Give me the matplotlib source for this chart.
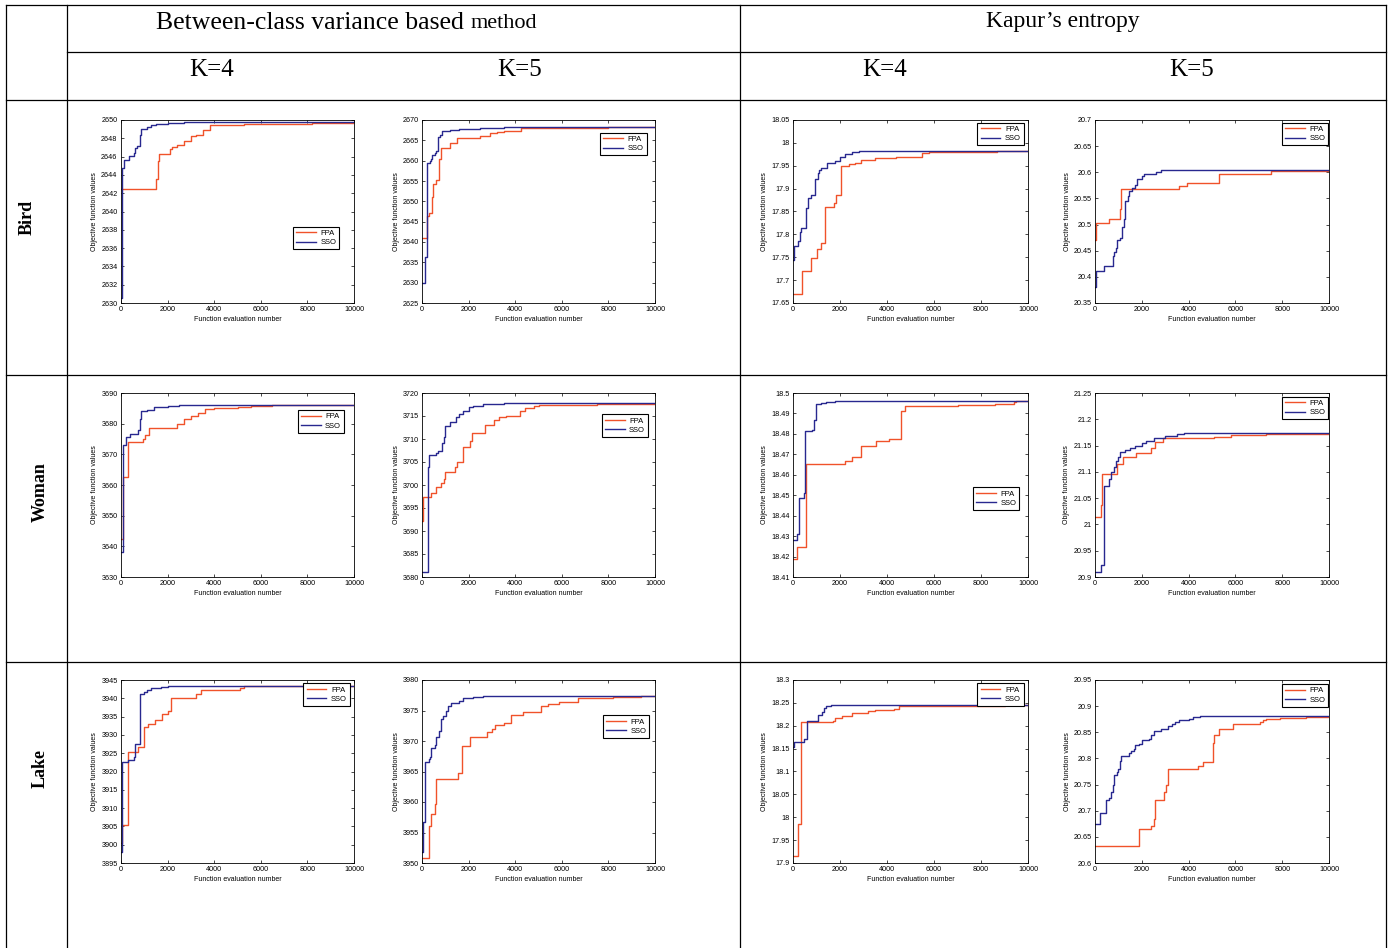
"""Convergence curves of FPA vs SSO for multilevel thresholding, laid out as a table."""
import numpy as np
import matplotlib
matplotlib.use("Agg")
import matplotlib.pyplot as plt
from matplotlib.lines import Line2D
from matplotlib.ticker import FuncFormatter

W, H = 1390, 948

COL_TITLES = ["Between-class variance based ", "method", "Kapur\u2019s entropy"]
K_LABELS = ["K=4", "K=5", "K=4", "K=5"]
ROW_LABELS = ["Bird", "Woman", "Lake"]
METHODS = ["FPA", "SSO"]
X_MAX = 10000
X_TICKS = [0, 2000, 4000, 6000, 8000, 10000]

# (ymin, ymax, tick step) per panel, rows Bird/Woman/Lake, cols BCV K4, BCV K5, Kapur K4, Kapur K5
Y_LIMITS = [
    [(2630, 2650, 2), (2625, 2670, 5), (17.65, 18.05, 0.05), (20.35, 20.7, 0.05)],
    [(3630, 3690, 10), (3680, 3720, 5), (18.41, 18.5, 0.01), (20.9, 21.25, 0.05)],
    [(3895, 3945, 5), (3950, 3980, 5), (17.9, 18.3, 0.05), (20.6, 20.95, 0.05)],
]

# best-so-far values: (evaluation number where the value starts, value)
bird_bcv4_fpa = [(0, 2642.5), (1500, 2643.6), (1600, 2645.5), (1650, 2646.3), (2100, 2646.8),
                 (2200, 2647.1), (2400, 2647.3), (2700, 2647.7), (3000, 2648.2), (3200, 2648.4),
                 (3500, 2648.9), (3800, 2649.5), (5300, 2649.55), (7600, 2649.6), (8200, 2649.7)]
bird_bcv4_sso = [(0, 2630.5), (50, 2644.8), (110, 2645.6), (330, 2646.1), (550, 2646.4),
                 (620, 2646.9), (700, 2647.2), (830, 2648.4), (870, 2649.0), (1100, 2649.2),
                 (1300, 2649.5), (1500, 2649.6), (2000, 2649.7), (2700, 2649.75)]

bird_bcv5_fpa = [(0, 2641.0), (200, 2646.3), (320, 2647.2), (420, 2651.0), (480, 2654.2),
                 (600, 2655.3), (720, 2660.5), (800, 2663.2), (1200, 2664.3), (1500, 2665.5),
                 (2500, 2666.1), (2900, 2666.7), (3200, 2667.0), (3500, 2667.3), (4250, 2668.1),
                 (8000, 2668.3)]
bird_bcv5_sso = [(0, 2630.0), (120, 2636.3), (200, 2659.5), (350, 2659.8), (400, 2660.3),
                 (450, 2661.5), (550, 2661.8), (600, 2662.5), (700, 2665.9), (780, 2666.3),
                 (850, 2667.3), (1200, 2667.6), (1600, 2667.9), (2500, 2668.1), (3500, 2668.3)]

bird_kap4_fpa = [(0, 17.67), (400, 17.72), (750, 17.748), (1000, 17.767), (1200, 17.782),
                 (1380, 17.86), (1750, 17.868), (1850, 17.885), (2050, 17.95), (2400, 17.953),
                 (2650, 17.956), (2900, 17.962), (3500, 17.966), (4400, 17.97), (5500, 17.978),
                 (5800, 17.98), (8700, 17.982)]
bird_kap4_sso = [(0, 17.745), (30, 17.775), (200, 17.785), (300, 17.805), (350, 17.815),
                 (570, 17.858), (630, 17.88), (750, 17.885), (950, 17.92), (1050, 17.935),
                 (1100, 17.94), (1200, 17.945), (1450, 17.955), (1800, 17.96), (2000, 17.97),
                 (2200, 17.975), (2500, 17.98), (2800, 17.982)]

bird_kap5_fpa = [(0, 20.47), (50, 20.503), (600, 20.51), (1050, 20.53), (1100, 20.568),
                 (3600, 20.573), (3950, 20.58), (5300, 20.596), (7500, 20.602)]
bird_kap5_sso = [(0, 20.38), (40, 20.412), (400, 20.42), (750, 20.44), (800, 20.448),
                 (900, 20.455), (950, 20.47), (1050, 20.475), (1150, 20.495), (1250, 20.51),
                 (1300, 20.545), (1400, 20.555), (1450, 20.565), (1600, 20.57), (1700, 20.575),
                 (1800, 20.588), (2000, 20.592), (2100, 20.596), (2600, 20.6), (2800, 20.604)]

woman_bcv4_fpa = [(0, 3642.5), (70, 3662.5), (300, 3674.0), (950, 3675.0), (1050, 3676.3),
                  (1200, 3678.6), (2400, 3680.0), (2700, 3681.5), (3000, 3682.5), (3300, 3683.5),
                  (3600, 3684.7), (4000, 3685.0), (5000, 3685.3), (5600, 3685.7), (6500, 3686.0)]
woman_bcv4_sso = [(0, 3638.0), (70, 3673.2), (200, 3675.5), (400, 3676.5), (720, 3678.0),
                  (800, 3681.5), (850, 3684.0), (1100, 3684.6), (1400, 3685.3), (2000, 3685.7),
                  (2500, 3686.0)]

woman_bcv5_fpa = [(0, 3692.2), (40, 3697.5), (400, 3698.2), (600, 3699.5), (800, 3700.4),
                  (950, 3701.3), (1000, 3702.8), (1400, 3704.0), (1500, 3705.1), (1750, 3708.3),
                  (2050, 3709.5), (2150, 3711.2), (2700, 3713.0), (3100, 3714.1), (3300, 3714.7),
                  (3600, 3715.1), (4200, 3716.1), (4400, 3716.8), (4800, 3717.2), (5000, 3717.5),
                  (7500, 3717.7)]
woman_bcv5_sso = [(0, 3681.0), (250, 3704.0), (320, 3706.6), (600, 3707.0), (700, 3707.5),
                  (850, 3709.2), (930, 3710.5), (1000, 3712.8), (1200, 3713.8), (1450, 3714.8),
                  (1600, 3715.5), (1750, 3716.1), (2000, 3716.9), (2200, 3717.1), (2600, 3717.6),
                  (3500, 3717.8)]

woman_kap4_fpa = [(0, 18.419), (150, 18.4245), (540, 18.4655), (2200, 18.4668), (2500, 18.4685),
                  (2900, 18.474), (3550, 18.4765), (4100, 18.4775), (4600, 18.491), (4750, 18.4935),
                  (7000, 18.4943), (8600, 18.4948), (9400, 18.4955), (9500, 18.496)]
woman_kap4_sso = [(0, 18.428), (150, 18.431), (250, 18.4485), (450, 18.451), (500, 18.4815),
                  (800, 18.482), (880, 18.4835), (900, 18.487), (980, 18.4945), (1200, 18.495),
                  (1400, 18.4955), (1800, 18.496)]

woman_kap5_fpa = [(0, 21.015), (250, 21.037), (320, 21.095), (950, 21.115), (1200, 21.129),
                  (1750, 21.136), (2400, 21.146), (2550, 21.156), (2900, 21.164), (5100, 21.166),
                  (5800, 21.171), (7300, 21.172)]
woman_kap5_sso = [(0, 20.91), (250, 20.923), (400, 21.073), (600, 21.087), (700, 21.1),
                  (800, 21.11), (900, 21.12), (1000, 21.128), (1050, 21.138), (1300, 21.142),
                  (1500, 21.146), (1700, 21.15), (2000, 21.155), (2200, 21.159), (2500, 21.165),
                  (3000, 21.169), (3500, 21.172), (3800, 21.174)]

lake_bcv4_fpa = [(0, 3900.5), (50, 3905.3), (300, 3925.2), (750, 3926.8), (1000, 3932.2),
                 (1150, 3933.0), (1450, 3934.1), (1750, 3935.8), (2000, 3936.5), (2150, 3940.2),
                 (3200, 3941.2), (3450, 3942.3), (5100, 3942.8), (5300, 3943.3)]
lake_bcv4_sso = [(0, 3898.0), (30, 3922.7), (300, 3923.2), (550, 3924.0), (600, 3927.5),
                 (800, 3941.3), (1000, 3941.8), (1100, 3942.3), (1300, 3942.8), (1700, 3943.2),
                 (2000, 3943.4)]

lake_bcv5_fpa = [(0, 3950.8), (300, 3956.0), (400, 3958.0), (550, 3959.6), (600, 3963.8),
                 (1550, 3964.8), (1700, 3969.2), (2050, 3970.6), (2800, 3971.4), (3000, 3972.0),
                 (3150, 3972.6), (3500, 3972.9), (3800, 3974.2), (4350, 3974.7), (5100, 3975.7),
                 (5400, 3976.0), (5900, 3976.4), (6700, 3977.0), (8200, 3977.2), (9400, 3977.4)]
lake_bcv5_sso = [(0, 3951.8), (50, 3956.8), (150, 3966.6), (300, 3967.1), (350, 3967.4),
                 (400, 3968.9), (550, 3969.3), (600, 3970.7), (750, 3971.7), (800, 3973.6),
                 (900, 3974.1), (1050, 3974.9), (1100, 3975.7), (1250, 3976.3), (1600, 3976.6),
                 (1750, 3977.0), (2200, 3977.2), (2600, 3977.4)]

lake_kap4_fpa = [(0, 17.916), (200, 17.985), (320, 18.208), (1700, 18.21), (1800, 18.218),
                 (2100, 18.221), (2500, 18.228), (3200, 18.232), (3500, 18.235), (4300, 18.237),
                 (4500, 18.243), (6700, 18.244), (9000, 18.245)]
lake_kap4_sso = [(0, 18.153), (50, 18.164), (450, 18.17), (600, 18.21), (1050, 18.223),
                 (1250, 18.23), (1300, 18.238), (1400, 18.244), (1600, 18.245)]

lake_kap5_fpa = [(0, 20.632), (1900, 20.665), (2400, 20.67), (2500, 20.685), (2550, 20.72),
                 (2950, 20.735), (3050, 20.75), (3100, 20.78), (4400, 20.785), (4600, 20.793),
                 (5050, 20.83), (5100, 20.845), (5300, 20.856), (5900, 20.865), (7050, 20.869),
                 (7200, 20.873), (7300, 20.876), (7900, 20.878), (9000, 20.879)]
lake_kap5_sso = [(0, 20.675), (200, 20.695), (450, 20.72), (600, 20.725), (700, 20.735),
                 (750, 20.75), (800, 20.768), (950, 20.775), (1000, 20.78), (1050, 20.795),
                 (1100, 20.805), (1450, 20.81), (1550, 20.815), (1650, 20.818), (1700, 20.825),
                 (1900, 20.828), (2000, 20.835), (2300, 20.838), (2400, 20.845), (2500, 20.852),
                 (2800, 20.857), (3100, 20.862), (3300, 20.866), (3400, 20.87), (3600, 20.873),
                 (4000, 20.876), (4200, 20.879), (4500, 20.881)]

CURVES = [
    [(bird_bcv4_fpa, bird_bcv4_sso), (bird_bcv5_fpa, bird_bcv5_sso),
     (bird_kap4_fpa, bird_kap4_sso), (bird_kap5_fpa, bird_kap5_sso)],
    [(woman_bcv4_fpa, woman_bcv4_sso), (woman_bcv5_fpa, woman_bcv5_sso),
     (woman_kap4_fpa, woman_kap4_sso), (woman_kap5_fpa, woman_kap5_sso)],
    [(lake_bcv4_fpa, lake_bcv4_sso), (lake_bcv5_fpa, lake_bcv5_sso),
     (lake_kap4_fpa, lake_kap4_sso), (lake_kap5_fpa, lake_kap5_sso)],
]

# ── layout (pixels of the 1390x948 page) ──────────────────────────────
COLORS = ["#f0522a", "#28288f"]
AX_COLS = [(121, 354), (422, 655), (793, 1028), (1095, 1329)]
AX_ROWS = [(120, 303), (393, 577), (680, 863)]
# legend upper-right corner in axes fraction
LEG_POS = [
    [(0.937, 0.417), (0.964, 0.931), (0.983, 0.985), (0.997, 0.985)],
    [(0.958, 0.908), (0.971, 0.884), (0.963, 0.488), (0.997, 0.980)],
    [(0.983, 0.982), (0.976, 0.808), (0.983, 0.982), (0.997, 0.978)],
]

plt.rcParams["font.family"] = ["Liberation Sans", "DejaVu Sans"]
SERIF = ["Liberation Serif", "DejaVu Serif"]

fig = plt.figure(figsize=(W / 100, H / 100), dpi=100)


def fx(x):
    return x / W


def fy(y):
    return 1 - y / H


def hline(y, x0, x1):
    fig.add_artist(Line2D([fx(x0), fx(x1)], [fy(y), fy(y)], transform=fig.transFigure,
                          color="black", lw=0.9))


def vline(x, y0, y1):
    fig.add_artist(Line2D([fx(x), fx(x)], [fy(y0), fy(y1)], transform=fig.transFigure,
                          color="black", lw=0.9))


# table grid
hline(5, 6, 1386)
hline(52, 67, 1386)
hline(100, 6, 1386)
hline(375, 6, 1386)
hline(662, 6, 1386)
for x in (6, 67, 740, 1386):
    vline(x, 5, 948)

# headers
t1 = fig.text(fx(156), fy(23), COL_TITLES[0], family=SERIF, fontsize=18.5, ha="left", va="center")
fig.canvas.draw()
bb = t1.get_window_extent(fig.canvas.get_renderer())
fig.text(bb.x1 / W, fy(24), COL_TITLES[1], family=SERIF, fontsize=16, ha="left", va="center")
fig.text(fx(1063), fy(22), COL_TITLES[2], family=SERIF, fontsize=17, ha="center", va="center")
for lab, xc in zip(K_LABELS, (212, 520, 885, 1192)):
    fig.text(fx(xc), fy(70), lab, family=SERIF, fontsize=18, ha="center", va="center")
for lab, (xc, yc) in zip(ROW_LABELS, ((27, 217), (40, 492), (40, 768))):
    fig.text(fx(xc), fy(yc), lab, family=SERIF, fontsize=13, fontweight="bold",
             rotation=90, ha="center", va="center")

fmt = FuncFormatter(lambda v, p: f"{round(v, 4):g}")

for r, (top, bot) in enumerate(AX_ROWS):
    for c, (left, right) in enumerate(AX_COLS):
        ax = fig.add_axes([fx(left), fy(bot), (right - left) / W, (bot - top) / H])
        for (curve, name, col) in zip(CURVES[r][c], METHODS, COLORS):
            xs = [p[0] for p in curve] + [X_MAX]
            ys = [p[1] for p in curve] + [curve[-1][1]]
            ax.step(xs, ys, where="post", color=col, lw=1.0, label=name)
        lo, hi, step = Y_LIMITS[r][c]
        n = int(round((hi - lo) / step)) + 1
        ax.set_ylim(lo, hi)
        ax.set_yticks(np.linspace(lo, hi, n))
        ax.yaxis.set_major_formatter(fmt)
        ax.set_xlim(0, X_MAX)
        ax.set_xticks(X_TICKS)
        ax.tick_params(direction="in", top=True, right=True, length=2.5, width=0.5,
                       labelsize=5.2, pad=2.5)
        for s in ax.spines.values():
            s.set_linewidth(0.6)
        ax.set_xlabel("Function evaluation number", fontsize=5, labelpad=1.5)
        ax.set_ylabel("Objective function values", fontsize=5, labelpad=2)
        leg = ax.legend(loc="upper right", bbox_to_anchor=LEG_POS[r][c], fontsize=5.5,
                        frameon=True, fancybox=False, framealpha=1, edgecolor="black",
                        borderpad=0.4, handlelength=2.6, handletextpad=0.6,
                        labelspacing=0.25, borderaxespad=0)
        leg.get_frame().set_linewidth(0.8)

fig.savefig("out.png", dpi=100)
